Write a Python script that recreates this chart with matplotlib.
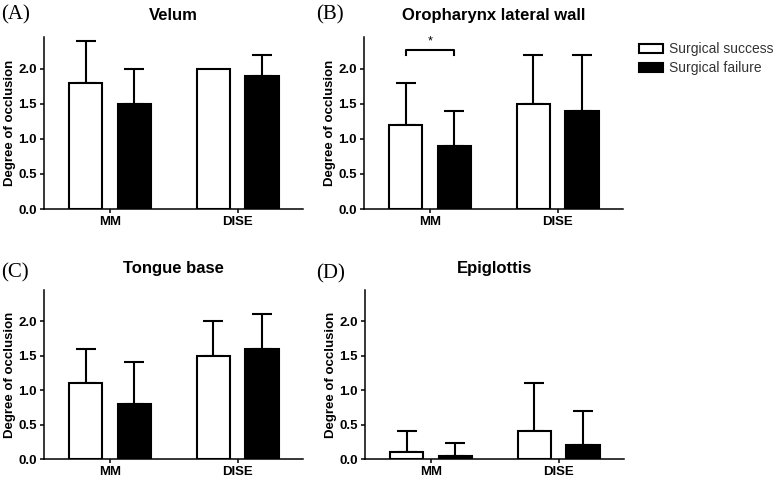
import matplotlib
matplotlib.use('Agg')
import matplotlib.pyplot as plt
from matplotlib.patches import Patch
import numpy as np

plt.rcParams['font.family'] = ['Liberation Sans', 'DejaVu Sans']

#-------------------------------------------------------------------------------
# data
categories = ['MM', 'DISE']
titles = ['Velum', 'Oropharynx lateral wall', 'Tongue base', 'Epiglottis']
letters = ['(A)', '(B)', '(C)', '(D)']

success_mean = [[1.8, 2.0], [1.2, 1.5], [1.1, 1.5], [0.1, 0.4]]
success_err = [[0.6, 0.0], [0.6, 0.7], [0.5, 0.5], [0.3, 0.7]]
failure_mean = [[1.5, 1.9], [0.9, 1.4], [0.8, 1.6], [0.04, 0.2]]
failure_err = [[0.5, 0.3], [0.5, 0.8], [0.6, 0.5], [0.19, 0.5]]
yticks = [0.0, 0.5, 1.0, 1.5, 2.0]
#-------------------------------------------------------------------------------

W, H = 778, 480
fig = plt.figure(figsize=(W / 100, H / 100), dpi=100)

# axes rectangles in pixels: left, top, right, bottom
boxes = [(44, 37, 303, 209), (364, 37, 623, 209),
         (44, 290, 303, 459), (365, 290, 624, 459)]
letter_pos = [(1, 15), (316, 15), (1, 273), (316, 274)]

x = np.arange(len(categories))
off, bw = 0.19, 0.26
lw = 1.5

for i in range(4):
    l, t, r, b = boxes[i]
    ax = fig.add_axes([l / W, 1 - b / H, (r - l) / W, (b - t) / H])
    ax.bar(x - off, success_mean[i], bw, color='white', edgecolor='black', linewidth=lw, zorder=3)
    ax.bar(x + off, failure_mean[i], bw, color='black', edgecolor='black', linewidth=lw, zorder=3)
    for xs, m, e in [(x - off, success_mean[i], success_err[i]), (x + off, failure_mean[i], failure_err[i])]:
        for xx, mm, ee in zip(xs, m, e):
            if ee > 0:
                ax.errorbar(xx, mm, yerr=[[0], [ee]], fmt='none', ecolor='black',
                            elinewidth=lw, capsize=7, capthick=lw, zorder=2)
    ax.set_xlim(-0.515, 1.51)
    ax.set_ylim(0, 2.45)
    ax.set_yticks(yticks)
    ax.set_yticklabels(['%.1f' % v for v in yticks], fontsize=9.5, fontweight='bold')
    ax.set_xticks(x)
    ax.set_xticklabels(categories, fontsize=9.5, fontweight='bold')
    ax.tick_params(axis='both', length=3, width=1.1, pad=2)
    for s in ['top', 'right']:
        ax.spines[s].set_visible(False)
    for s in ['left', 'bottom']:
        ax.spines[s].set_linewidth(1.1)
    ax.set_ylabel('Degree of occlusion', fontsize=9.5, fontweight='bold', labelpad=2)
    ax.set_title(titles[i], fontsize=12, fontweight='bold', pad=12)
    fig.text(letter_pos[i][0] / W, 1 - letter_pos[i][1] / H, letters[i],
             family=['Liberation Serif', 'DejaVu Serif'], fontsize=15, va='center', ha='left')

    if i == 1:
        # significance bracket between MM bars
        x0, x1 = -off, off
        ax.plot([x0, x0, x1, x1], [2.19, 2.26, 2.26, 2.19], color='black', lw=lw, clip_on=False)
        ax.text(0, 2.38, '*', ha='center', va='center', fontsize=9, clip_on=False)

handles = [Patch(facecolor='white', edgecolor='black', linewidth=1.5),
           Patch(facecolor='black', edgecolor='black', linewidth=1.5)]
leg = fig.legend(handles, ['Surgical success', 'Surgical failure'],
                 loc='upper left', bbox_to_anchor=(626 / W, 1 - 30 / H),
                 frameon=False, fontsize=10, handlelength=1.75, handleheight=0.6,
                 handletextpad=0.45, labelspacing=0.35)
for txt in leg.get_texts():
    txt.set_color('#333333')

fig.savefig('out.png', dpi=100)
